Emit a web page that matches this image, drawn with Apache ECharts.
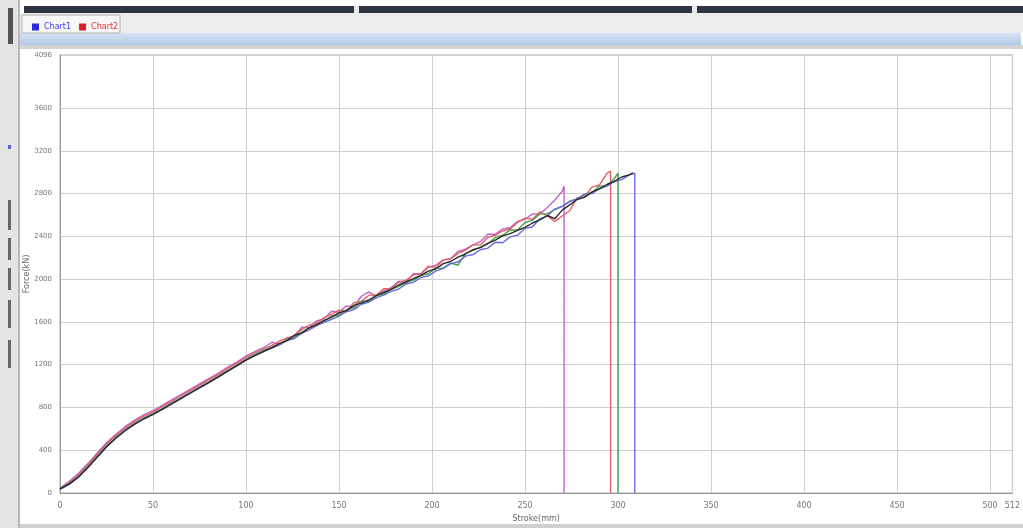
<!DOCTYPE html>
<html>
<head>
<meta charset="utf-8">
<script src="https://cdn.jsdelivr.net/npm/echarts@6/dist/echarts.min.js"></script>
<style>
html,body{margin:0;padding:0;background:#ffffff;}
#chart{width:1023px;height:528px;}
</style>
</head>
<body>
<div id="chart"></div>
<script>
// Stroke grid (mm) shared by all curves
var strokeEarly = [0,5,10,15,20,25,30,35,40,45,50,55,60,65,70,75,80,85,90,95,100,105,110];
var strokeLate = [114,118,122,126,130,134,138,142,146,150,154,158,162,166,170,174,178,182,186,190,194,198,202,206,210,214,218,222,226,230,234,238,242,246,250,254,258,262,266,270,274,278,282,286,290,294,298,302,306,310];

var xTicks = [0,50,100,150,200,250,300,350,400,450,500,512];
var yTicks = [0,400,800,1200,1600,2000,2400,2800,3200,3600,4096];

// Force values per curve
var forceMagenta = [45,110,185,275,375,470,550,620,680,730,770,820,870,920,970,1020,1070,1120,1175,1225,1280,1325,1365,
  1410,1390,1440,1470,1550,1545,1610,1630,1700,1690,1750,1740,1840,1880,1840,1890,1920,1980,1970,2050,2050,2110,2130,2180,2190,2260,2280,2320,2350,2420,2420,2470,2480,2540,2560,2610,2610,2670,2740,2820];
var endMagenta = [271, 2870];

var forceRed = [40,100,170,262,362,457,537,607,667,717,757,807,857,907,957,1007,1057,1107,1162,1212,1265,1310,1350,
  1380,1420,1450,1470,1530,1570,1590,1640,1670,1710,1700,1780,1790,1850,1850,1910,1910,1970,1990,2040,2050,2120,2110,2180,2190,2240,2270,2320,2320,2390,2410,2450,2470,2530,2570,2560,2630,2590,2540,2590,2640,2760,2770,2860,2880,2990];
var endRed = [296, 3010];

var forceGreen = [38,88,155,245,345,440,520,590,650,700,740,790,840,890,940,990,1040,1090,1145,1195,1250,1295,1335,
  1365,1385,1435,1455,1505,1545,1575,1605,1655,1665,1715,1730,1795,1790,1845,1860,1905,1930,1965,1990,2035,2050,2105,2100,2150,2130,2240,2270,2300,2330,2390,2410,2460,2460,2530,2550,2610,2610,2650,2680,2730,2750,2790,2810,2870,2870,2940];
var endGreen = [300, 2990];

var forceBlue = [35,80,150,240,340,435,515,585,645,695,735,785,835,885,935,985,1035,1085,1140,1190,1245,1290,1330,
  1355,1385,1425,1445,1495,1525,1565,1595,1625,1655,1695,1715,1765,1785,1825,1850,1885,1905,1955,1970,2015,2030,2075,2100,2145,2160,2215,2230,2275,2290,2345,2340,2395,2410,2475,2490,2565,2590,2655,2680,2725,2750,2795,2800,2845,2870,2915,2930,2975];
var endBlue = [309, 2990];

var forceBlack = [38,85,150,238,335,430,512,582,642,692,735,783,833,883,933,983,1033,1083,1138,1188,1242,1288,1328,
  1360,1400,1425,1475,1495,1545,1575,1615,1645,1685,1705,1755,1775,1805,1845,1875,1905,1945,1975,2005,2035,2075,2095,2145,2165,2205,2235,2275,2295,2335,2365,2405,2425,2455,2485,2525,2555,2595,2565,2645,2695,2745,2765,2815,2845,2885,2915,2955,2975];
var endBlack = [308, 2995];

var stroke = strokeEarly.concat(strokeLate);

function build(force, end, drop) {
  var d = [];
  for (var i = 0; i < force.length; i++) d.push([stroke[i], force[i]]);
  d.push([end[0], end[1]]);
  if (drop) d.push([end[0], 0]);
  return d;
}

function line(name, color, data) {
  return {
    name: name, type: 'line', data: data, showSymbol: false, symbol: 'none',
    lineStyle: { color: color, width: 1.4 }, itemStyle: { color: color },
    animation: false, z: 3
  };
}

var chart = echarts.init(document.getElementById('chart'), null, { renderer: 'canvas' });

var graphics = [
  { type: 'rect', shape: { x: 0, y: 0, width: 18, height: 528 }, style: { fill: '#e4e4e4' }, z: -10 },
  { type: 'rect', shape: { x: 8, y: 8, width: 5, height: 36 }, style: { fill: '#555' }, z: -9 },
  { type: 'rect', shape: { x: 8, y: 200, width: 3, height: 30 }, style: { fill: '#666' }, z: -9 },
  { type: 'rect', shape: { x: 8, y: 238, width: 3, height: 22 }, style: { fill: '#666' }, z: -9 },
  { type: 'rect', shape: { x: 8, y: 268, width: 3, height: 22 }, style: { fill: '#666' }, z: -9 },
  { type: 'rect', shape: { x: 8, y: 300, width: 3, height: 28 }, style: { fill: '#666' }, z: -9 },
  { type: 'rect', shape: { x: 8, y: 340, width: 3, height: 28 }, style: { fill: '#666' }, z: -9 },
  { type: 'rect', shape: { x: 8, y: 145, width: 3, height: 4 }, style: { fill: '#5060e0' }, z: -9 },
  { type: 'rect', shape: { x: 18, y: 0, width: 2, height: 528 }, style: { fill: '#b8b8b8' }, z: -9 },
  { type: 'rect', shape: { x: 24, y: 6, width: 999, height: 7 }, style: { fill: '#2e3444' }, z: -9 },
  { type: 'rect', shape: { x: 354, y: 6, width: 5, height: 7 }, style: { fill: '#e8e8e8' }, z: -8 },
  { type: 'rect', shape: { x: 692, y: 6, width: 5, height: 7 }, style: { fill: '#e8e8e8' }, z: -8 },
  { type: 'rect', shape: { x: 20, y: 13, width: 1003, height: 20 }, style: { fill: '#ededed' }, z: -9 },
  { type: 'rect', shape: { x: 22, y: 15, width: 98, height: 18 }, style: { fill: '#f7f7f7', stroke: '#b0b0b0', lineWidth: 1 }, z: -8 },
  { type: 'rect', shape: { x: 20, y: 33, width: 1001, height: 12 },
    style: { fill: new echarts.graphic.LinearGradient(0, 0, 0, 1, [{ offset: 0, color: '#d6e3f4' }, { offset: 1, color: '#b4c9e6' }]) }, z: -9 },
  { type: 'rect', shape: { x: 20, y: 45, width: 1003, height: 4 }, style: { fill: '#d4d4d4' }, z: -9 },
  { type: 'rect', shape: { x: 20, y: 524, width: 1003, height: 4 }, style: { fill: '#d0d0d0' }, z: -9 }
];

function plain(v) { return String(v); }

chart.setOption({
  animation: false,
  backgroundColor: '#ffffff',
  graphic: graphics,
  legend: {
    left: 27, top: 18, itemWidth: 7, itemHeight: 7, itemGap: 8, icon: 'rect',
    textStyle: { fontSize: 8, fontFamily: 'DejaVu Sans' },
    data: [
      { name: 'Chart1', textStyle: { color: '#3a3ae0' } },
      { name: 'Chart2', textStyle: { color: '#e03030' } }
    ],
    selectedMode: false
  },
  grid: { left: 60, right: 8, top: 55, bottom: 33, show: true, backgroundColor: '#ffffff', borderColor: '#a8a8a8', borderWidth: 1 },
  xAxis: {
    type: 'value', min: 0, max: 512, interval: 50,
    name: 'Stroke(mm)', nameLocation: 'middle', nameGap: 22, nameMoveOverlap: false,
    nameTextStyle: { fontSize: 8, color: '#666', fontFamily: 'DejaVu Sans' },
    axisLine: { show: true, lineStyle: { color: '#999' } },
    axisTick: { show: false, customValues: xTicks },
    axisLabel: { customValues: xTicks, formatter: plain, fontSize: 8, color: '#777', margin: 9, fontFamily: 'DejaVu Sans' },
    splitLine: { show: true, lineStyle: { color: '#cfcfcf', width: 1 } }
  },
  yAxis: {
    type: 'value', min: 0, max: 4096, interval: 400,
    name: 'Force(kN)', nameLocation: 'middle', nameGap: 29, nameRotate: 90, nameMoveOverlap: false,
    nameTextStyle: { fontSize: 8, color: '#666', fontFamily: 'DejaVu Sans' },
    axisLine: { show: true, lineStyle: { color: '#999' } },
    axisTick: { show: false, customValues: yTicks },
    axisLabel: { customValues: yTicks, formatter: plain, fontSize: 7, color: '#777', margin: 8, fontFamily: 'DejaVu Sans' },
    splitLine: { show: true, lineStyle: { color: '#cfcfcf', width: 1 } }
  },
  series: [
    { name: 'Chart1', type: 'line', data: [], itemStyle: { color: '#2a2ad8' }, lineStyle: { color: '#2a2ad8' } },
    { name: 'Chart2', type: 'line', data: [], itemStyle: { color: '#d82020' }, lineStyle: { color: '#d82020' } },
    line('magenta', '#c060d0', build(forceMagenta, endMagenta, true)),
    line('red', '#e26060', build(forceRed, endRed, true)),
    line('green', '#4aa04a', build(forceGreen, endGreen, true)),
    line('blue', '#6a6ae0', build(forceBlue, endBlue, true)),
    line('black', '#2a2a2a', build(forceBlack, endBlack, false))
  ]
});
</script>
</body>
</html>
